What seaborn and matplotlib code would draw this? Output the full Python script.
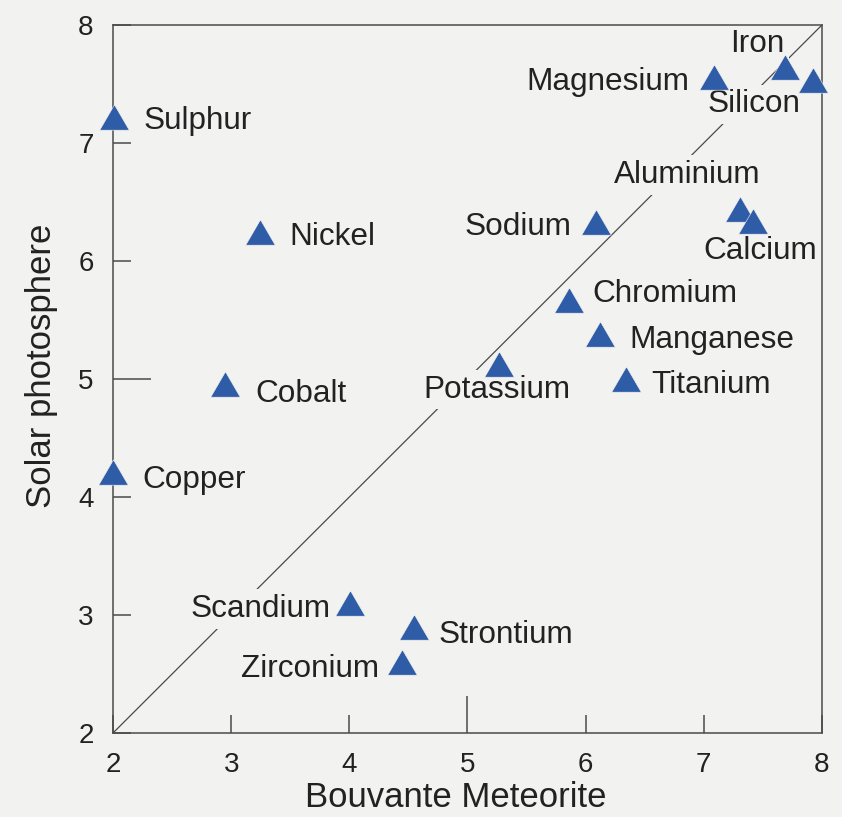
import numpy as np
import pandas as pd
import seaborn as sns
import matplotlib.pyplot as plt

# element abundances (log scale)
elements = ['Sulphur', 'Nickel', 'Cobalt', 'Copper', 'Scandium', 'Strontium',
            'Zirconium', 'Potassium', 'Sodium', 'Chromium', 'Manganese',
            'Titanium', 'Aluminium', 'Calcium', 'Magnesium', 'Iron', 'Silicon']
meteorite = [2.01, 3.24, 2.95, 2.00, 4.01, 4.55, 4.45, 5.27, 6.09, 5.86, 6.12,
             6.34, 7.31, 7.42, 7.09, 7.69, 7.92]
photosphere = [7.22, 6.25, 4.96, 4.21, 3.10, 2.90, 2.60, 5.13, 6.33, 5.67, 5.38,
               5.00, 6.44, 6.34, 7.56, 7.64, 7.53]
ticks = [2, 3, 4, 5, 6, 7, 8]

# label offsets from the marker in pixels (x, y to baseline) and alignment
label_pos = {
    'Sulphur': (29, -12, 'left'),
    'Nickel': (30, -13, 'left'),
    'Cobalt': (30, -18, 'left'),
    'Copper': (29, -16, 'left'),
    'Scandium': (-20, -14, 'right'),
    'Strontium': (24, -16, 'left'),
    'Zirconium': (-23, -15, 'right'),
    'Potassium': (-2, -34, 'center'),
    'Sodium': (-25, -13, 'right'),
    'Chromium': (23, -2, 'left'),
    'Manganese': (30, -14, 'left'),
    'Titanium': (25, -14, 'left'),
    'Aluminium': (-53, 26, 'center'),
    'Calcium': (7, -38, 'center'),
    'Magnesium': (-25, -13, 'right'),
    'Iron': (-28, 15, 'center'),
    'Silicon': (-59, -32, 'center'),
}

df = pd.DataFrame({'element': elements, 'meteorite': meteorite, 'solar': photosphere})

bg = '#f2f2f1'
line_col = '#4a4a4a'
blue = '#2f5ca6'

sns.set_style('ticks')
plt.rcParams['font.family'] = ['Liberation Sans', 'DejaVu Sans']

fig = plt.figure(figsize=(8.42, 8.17), dpi=100, facecolor=bg)
ax = fig.add_axes([0.1342, 0.1028, 0.8420, 0.8666])
ax.set_facecolor(bg)

# 1:1 line, broken by the label boxes
ax.plot([ticks[0], ticks[-1]], [ticks[0], ticks[-1]], color=line_col, lw=0.9, zorder=1)

tri = [(0, 0.86), (-1, -0.86), (1, -0.86), (0, 0.86)]
sns.scatterplot(data=df, x='meteorite', y='solar', marker=tri, s=450,
                color=blue, edgecolor=bg, linewidth=0.4, clip_on=False,
                zorder=4, ax=ax)

for name, x, y in zip(elements, meteorite, photosphere):
    dx, dy, ha = label_pos[name]
    ax.annotate(name, (x, y), xytext=(dx, dy), textcoords='offset pixels',
                ha=ha, va='baseline', fontsize=22.7, color='#222222', zorder=2,
                bbox=dict(boxstyle='square,pad=0.15', fc=bg, ec='none'))

ax.set_xlim(ticks[0], ticks[-1])
ax.set_ylim(ticks[0], ticks[-1])
ax.set_xticks(ticks)
ax.set_yticks(ticks)
ax.tick_params(direction='in', length=13, width=1.1, color=line_col,
               labelsize=20, pad=14, labelcolor='#222222')
for t in (ax.xaxis.get_major_ticks()[3], ax.yaxis.get_major_ticks()[3]):
    t.tick1line.set_markersize(27)

for sp in ax.spines.values():
    sp.set_color(line_col)
    sp.set_linewidth(1.1)
    sp.set_visible(True)
    sp.set_zorder(2.5)

ax.set_xlabel('Bouvante Meteorite', fontsize=25, color='#222222')
ax.set_ylabel('Solar photosphere', fontsize=25, color='#222222')
ax.xaxis.set_label_coords(0.484, -0.068)
ax.yaxis.set_label_coords(-0.078, 0.518)

fig.savefig('out.png', dpi=100, facecolor=bg)
